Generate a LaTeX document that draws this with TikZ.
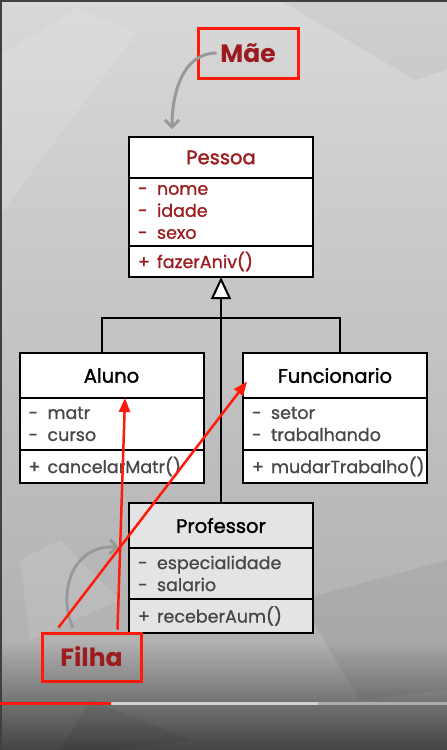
\documentclass[tikz,border=0pt]{standalone}
\usepackage{fontspec}
\setmainfont{Poppins}
\newfontfamily\medio{Poppins}[FakeBold=0.9]
\newfontfamily\forte{Poppins}[FakeBold=1.6]
\usetikzlibrary{arrows.meta, positioning, calc}
\definecolor{fundoclaro}{HTML}{D8D8D8}
\definecolor{fundomeio}{HTML}{B2B2B2}
\definecolor{fundoescuro}{HTML}{434343}
\definecolor{vinho}{HTML}{9B1B1E}
\definecolor{vermelhoaviso}{HTML}{FF1A0A}
\definecolor{cinzaseta}{HTML}{999999}
\definecolor{textocinza}{HTML}{474747}
\definecolor{fundoprof}{HTML}{E4E4E4}
\newcommand{\vis}[2]{\makebox[19pt][l]{#1}#2}
\tikzset{
  secao/.style={rectangle, draw=black, line width=2pt, fill=white, minimum width=184pt, outer sep=0pt, inner xsep=9pt},
  titulo/.style={secao, minimum height=#1, font=\fontsize{19.5}{22}\forte},
  membros/.style={secao, minimum height=#1, text width=166pt, align=left, text=textocinza, font=\fontsize{17.5}{22}\medio},
  classemae/.style={text=vinho},
  classefilha/.style={fill=fundoprof},
  rotulo/.style={rectangle, draw=vermelhoaviso, line width=3pt, text=vinho, font=\fontsize{25}{25}\selectfont\bfseries},
  heranca/.style={-{Triangle[open, fill=white, length=22pt, width=20pt, line width=2pt]}, line width=2.5pt, black},
  linha/.style={line width=2.5pt, black},
  setaverm/.style={-{Triangle[length=14pt, width=11pt]}, line width=2.5pt, vermelhoaviso},
  setacinza/.style={-{Straight Barb[length=7pt, width=14pt]}, line width=3pt, cinzaseta},
}

\begin{document}
\begin{tikzpicture}[x=1pt, y=-1pt]
  \useasboundingbox (0,0) rectangle (447,750);
  % fundo
  \fill[top color=fundoclaro, bottom color=fundomeio] (0,0) rectangle (447,640);
  \fill[top color=fundomeio, bottom color=fundoescuro] (0,640) rectangle (447,750);
  \fill[white, opacity=0.12] (0,55) -- (78,8) -- (136,33) -- (0,215) -- cycle;
  \fill[black, opacity=0.04] (280,0) -- (447,0) -- (447,70) -- (415,80) -- cycle;
  \fill[white, opacity=0.10] (20,560) -- (60,540) -- (120,600) -- (30,640) -- cycle;
  \fill[black, opacity=0.05] (300,600) -- (447,560) -- (447,690) -- (360,700) -- cycle;
  \fill[black, opacity=0.06] (90,700) -- (190,740) -- (120,750) -- (60,750) -- cycle;
  \draw[black!75, line width=1.5pt] (0.75,750) -- (0.75,0.75) -- (447,0.75);

  % Pessoa
  \node[titulo=41pt, classemae, anchor=north] (pessoaTitulo) at (221,137) {Pessoa};
  \node[membros=68pt, classemae, below=0pt of pessoaTitulo] (pessoaAtrib)
    {\vis{-}{nome}\\ \vis{-}{idade}\\ \vis{-}{sexo}};
  \node[membros=31pt, classemae, below=0pt of pessoaAtrib] (pessoaMetodos)
    {\vis{+}{fazerAniv()}};

  % Aluno
  \node[titulo=45pt, anchor=north] (alunoTitulo) at (111.5,353) {Aluno};
  \node[membros=52pt, below=0pt of alunoTitulo] (alunoAtrib)
    {\vis{-}{matr}\\ \vis{-}{curso}};
  \node[membros=33pt, below=0pt of alunoAtrib] (alunoMetodos)
    {\vis{+}{cancelarMatr()}};

  % Funcionario
  \node[titulo=45pt, anchor=north] (funcTitulo) at (335,353) {Funcionario};
  \node[membros=52pt, below=0pt of funcTitulo] (funcAtrib)
    {\vis{-}{setor}\\ \vis{-}{trabalhando}};
  \node[membros=33pt, below=0pt of funcAtrib] (funcMetodos)
    {\vis{+}{mudarTrabalho()}};

  % Professor
  \node[titulo=45pt, classefilha, anchor=north] (profTitulo) at (221,503) {Professor};
  \node[membros=51pt, classefilha, below=0pt of profTitulo] (profAtrib)
    {\vis{-}{especialidade}\\ \vis{-}{salario}};
  \node[membros=34pt, classefilha, below=0pt of profAtrib] (profMetodos)
    {\vis{+}{receberAum()}};

  % heranca
  \coordinate (juncao) at (221,318);
  \draw[linha] ([xshift=-9.5pt]alunoTitulo.north) |- (juncao) -| ([xshift=5pt]funcTitulo.north);
  \draw[heranca] (profTitulo.north) -- (pessoaMetodos.south);

  % rotulos
  \node[rotulo, minimum width=100pt, minimum height=50pt] (mae) at (248,53) {Mãe};
  \node[rotulo, minimum width=99pt, minimum height=48pt] (filha) at (91.5,657) {Filha};
  \coordinate (chegaMae) at (172,129);
  \draw[setacinza] ([xshift=20pt]mae.west) to[out=180, in=90] (chegaMae);
  \coordinate (saiFilha) at (73,628);
  \coordinate (chegaFilha) at (119,547);
  \draw[setacinza] (saiFilha) .. controls (58,595) and (70,545) .. (chegaFilha);
  \draw[setaverm] ([xshift=18pt, yshift=4pt]filha.north west) -- ($(funcTitulo.west)+(4,6)$);
  \draw[setaverm] ([xshift=-25pt, yshift=2pt]filha.north east) -- ($(alunoTitulo.south)+(13.5,0)$);

  % barra de progresso
  \draw[vermelhoaviso, line width=3pt] (0,703) -- (111,703);
  \draw[black!18, line width=3pt] (111,703) -- (318,703);
  \draw[black!32, line width=3pt] (318,703) -- (447,703);
\end{tikzpicture}
\end{document}
